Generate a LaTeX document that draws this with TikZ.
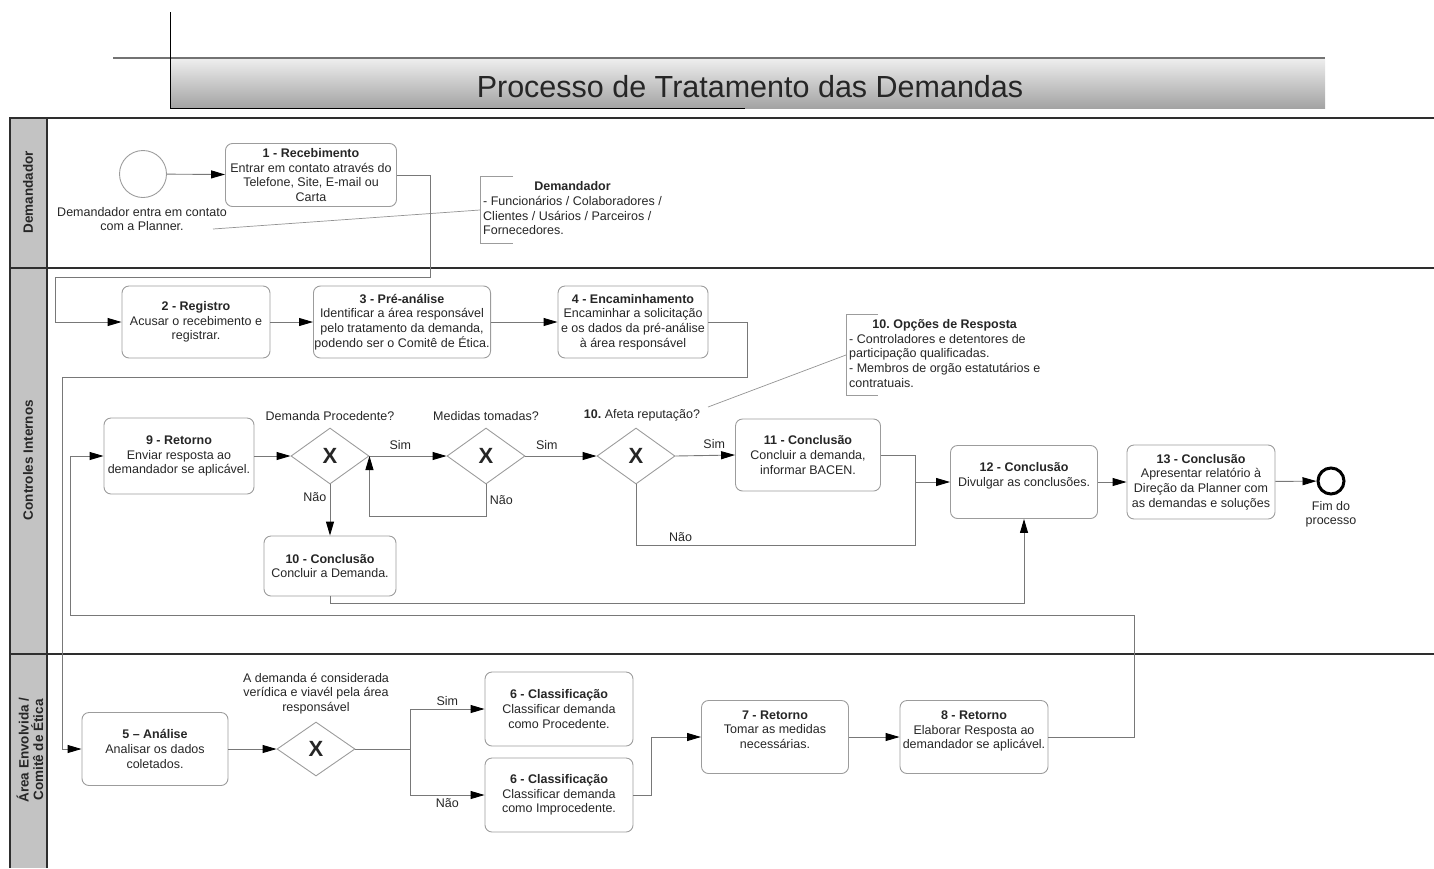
\documentclass[tikz,border=0pt]{standalone}
\usepackage{fontspec}
\setmainfont{Liberation Sans}
\usetikzlibrary{arrows.meta,calc,positioning,shapes.geometric}

\definecolor{boxline}{HTML}{9C9C9C}
\definecolor{flowline}{HTML}{787878}
\definecolor{lanefill}{HTML}{C3C3C3}
\definecolor{poolline}{HTML}{2E2E2E}

\newcommand{\txt}{\fontsize{12.5}{14.7}\selectfont}
\frenchspacing

\begin{document}
\begin{tikzpicture}[x=1pt,y=-1pt,>={Triangle[length=14pt,width=8pt,color=black]},font=\txt,text=black!85,
    task/.style={draw=boxline,line width=0.9pt,rounded corners=7pt,align=center,minimum width=148pt,minimum height=73pt,inner sep=1pt},
    gate/.style={draw=boxline,line width=0.9pt,diamond,minimum width=78pt,minimum height=56pt,inner sep=0pt,font=\fontsize{22}{22}\selectfont\bfseries},
    flow/.style={draw=flowline,line width=0.9pt},
    assoc/.style={draw=flowline!80,line width=0.7pt},
    lanelabel/.style={rotate=90,align=center,inner sep=0pt,font=\fontsize{13.5}{14.5}\selectfont\bfseries},
    note/.style={inner ysep=1pt,inner xsep=3pt,anchor=west}]
  \useasboundingbox (0,0) rectangle (1434,868);

  % title
  \shade[top color=black!7,bottom color=black!36] (170,59) rectangle (1325,108);
  \draw[black!55,line width=1.6pt] (113,58) -- (1325,58);
  \draw[black,line width=0.8pt] (170,12) -- (170,108) -- (745,108);
  \node[font=\fontsize{30.5}{30}\selectfont] (title) at (750,87) {Processo de Tratamento das Demandas};

  % pool and lanes
  \fill[lanefill] (10,118) rectangle (47,868);
  \draw[poolline,line width=2.4pt] (1434,118) -- (10,118) -- (10,868);
  \draw[poolline,line width=1.8pt] (47,118) -- (47,868);
  \draw[poolline,line width=2.4pt] (10,268) -- (1434,268);
  \draw[poolline,line width=2.4pt] (10,654) -- (1434,654);
  \node[lanelabel] (laneA) at (28,192) {Demandador};
  \node[lanelabel] (laneB) at (28,460) {Controles Internos};
  \node[lanelabel] (laneC) at (30,750) {Área Envolvida /\\Comitê de Ética};

  % Demandador
  \node[circle,draw=boxline,line width=0.9pt,minimum size=47pt] (start) at (143,174) {};
  \node[align=center] (startlbl) at (142,219) {Demandador entra em contato\\com a Planner.};
  \node[task,minimum width=171pt,minimum height=63pt] (b1) at (311,175) {\textbf{1 - Recebimento}\\Entrar em contato através do\\Telefone, Site, E-mail ou\\Carta};
  \node[note,minimum height=67pt] (n1) at (480,210) {\begin{tabular}{@{}l@{}}\multicolumn{1}{@{}c@{}}{\textbf{Demandador}}\\- Funcionários / Colaboradores /\\Clientes / Usários / Parceiros /\\Fornecedores.\end{tabular}};
  \draw[boxline,line width=0.9pt] ([xshift=33pt]n1.north west) -- (n1.north west) -- (n1.south west) -- ([xshift=33pt]n1.south west);
  \coordinate (a1) at (213,229);
  \draw[assoc] (a1) -- (n1.west);
  \draw[flow,->] (start) -- (b1);

  % Controles Internos
  \node[task,minimum height=72pt] (b2) at (196,322) {\textbf{2 - Registro}\\Acusar o recebimento e\\registrar.};
  \node[task,minimum width=162pt,minimum height=72pt] (b3) at (402,322) {\textbf{3 - Pré-análise}\\Identificar a área responsável\\pelo tratamento da demanda,\\podendo ser o Comitê de Ética.};
  \node[task,minimum width=150pt,minimum height=72pt] (b4) at (633,322) {\textbf{4 - Encaminhamento}\\Encaminhar a solicitação\\e os dados da pré-análise\\à área responsável};
  \coordinate (k1) at (430,277);
  \coordinate (k2) at (55,277);
  \draw[flow,->] (b1.east) -| (k1) -- (k2) |- (b2.west);
  \draw[flow,->] (b2) -- (b3);
  \draw[flow,->] (b3) -- (b4);

  \node[note,minimum height=80pt] (n2) at (846,355) {\begin{tabular}{@{}l@{}}\multicolumn{1}{@{}c@{}}{\textbf{10. Opções de Resposta}}\\- Controladores e detentores de\\participação qualificadas.\\- Membros de orgão estatutários e\\contratuais.\end{tabular}};
  \draw[boxline,line width=0.9pt] ([xshift=32pt]n2.north west) -- (n2.north west) -- (n2.south west) -- ([xshift=32pt]n2.south west);
  \coordinate (a2) at (708,407);
  \draw[assoc] (a2) -- (n2.west);

  \node[task,minimum width=150pt,minimum height=76pt] (b9) at (179,456) {\textbf{9 - Retorno}\\Enviar resposta ao\\demandador se aplicável.};
  \node[gate] (g1) at (330,456) {X};
  \node[gate] (g2) at (486,456) {X};
  \node[gate] (g3) at (636,456) {X};
  \node[above=3pt of g1] (g1lbl) {Demanda Procedente?};
  \node[above=3pt of g2] (g2lbl) {Medidas tomadas?};
  \node[above=3pt of g3,xshift=6pt] (g3lbl) {\textbf{10.} Afeta reputação?};
  \node[task,minimum width=132pt,minimum height=60pt] (b10) at (330,566) {\textbf{10 - Conclusão}\\Concluir a Demanda.};
  \node[task,minimum width=145pt,minimum height=72pt] (b11) at (808,455) {\textbf{11 - Conclusão}\\Concluir a demanda,\\informar BACEN.};
  \node[task,minimum width=147pt] (b12) at (1024,482) {\textbf{12 - Conclusão}\\Divulgar as conclusões.\\~};
  \node[task,minimum height=74pt] (b13) at (1201,482) {\textbf{13 - Conclusão}\\Apresentar relatório à\\Direção da Planner com\\as demandas e soluções};
  \node[circle,draw=black,line width=3pt,minimum size=26pt] (stop) at (1331,481) {};
  \node[align=center,below=2pt of stop] (stoplbl) {Fim do\\processo};

  \draw[flow,->] (b9) -- (g1);
  \draw[flow,->] (g1.east) -- node[pos=0.4,above=3pt] {Sim} (g2.west);
  \draw[flow,->] (g2.east) -- node[pos=0.3,above=3pt] {Sim} (g3.west);
  \draw[flow,->] (g3.east) -- node[pos=0.65,above=3pt] {Sim} (b11.west);
  \draw[flow,->] (g1.south) -- node[pos=0.25,left] {Não} (b10.north);
  \draw[flow,->] (g2.south) -- node[right] {Não} ++(0,32) -| (g1.east);
  \coordinate (m1) at (915,482);
  \coordinate (m2) at (915,545);
  \draw[flow] (b11.east) -| (m1);
  \draw[flow] (g3.south) |- node[pos=0.58,above] {Não} (m2) -- (m1);
  \draw[flow,->] (m1) -- (b12.west);
  \draw[flow,->] (b10.south) -- ++(0,7) -| (b12.south);
  \draw[flow,->] (b12) -- (b13);
  \draw[flow,->] (b13) -- (stop);

  % Area Envolvida / Comite de Etica
  \node[task,minimum width=146pt] (b5) at (155,749) {\textbf{5 – Análise}\\Analisar os dados\\coletados.};
  \node[gate,minimum height=54pt] (g4) at (316,749) {X};
  \node[align=center,above=4pt of g4] (g4lbl) {A demanda é considerada\\verídica e viavél pela área\\responsável};
  \node[task,minimum height=74pt] (b6a) at (559,709) {\textbf{6 - Classificação}\\Classificar demanda\\como Procedente.};
  \node[task,minimum height=74pt] (b6b) at (559,795) {\textbf{6 - Classificação}\\Classificar demanda\\como Improcedente.};
  \node[task,minimum width=147pt] (b7) at (775,737) {\textbf{7 - Retorno}\\Tomar as medidas\\necessárias.\\~};
  \node[task] (b8) at (974,737) {\textbf{8 - Retorno}\\Elaborar Resposta ao\\demandador se aplicável.\\~};
  \coordinate (k3) at (747,377);
  \coordinate (k4) at (62,377);
  \draw[flow,->] (b4.east) -| (k3) -- (k4) |- (b5.west);
  \coordinate (s1) at (410,749);
  \draw[flow,->] (b5) -- (g4);
  \draw[flow] (g4.east) -- (s1);
  \draw[flow,->] (s1) |- node[pos=0.75,above] {Sim} (b6a.west);
  \draw[flow,->] (s1) |- node[pos=0.75,below] {Não} (b6b.west);
  \draw[flow,->] (b6b.east) -- ++(18,0) |- (b7.west);
  \draw[flow,->] (b7) -- (b8);
  \coordinate (k5) at (1134,615);
  \coordinate (k6) at (70,615);
  \draw[flow,->] (b8.east) -| (k5) -- (k6) |- (b9.west);
\end{tikzpicture}
\end{document}
